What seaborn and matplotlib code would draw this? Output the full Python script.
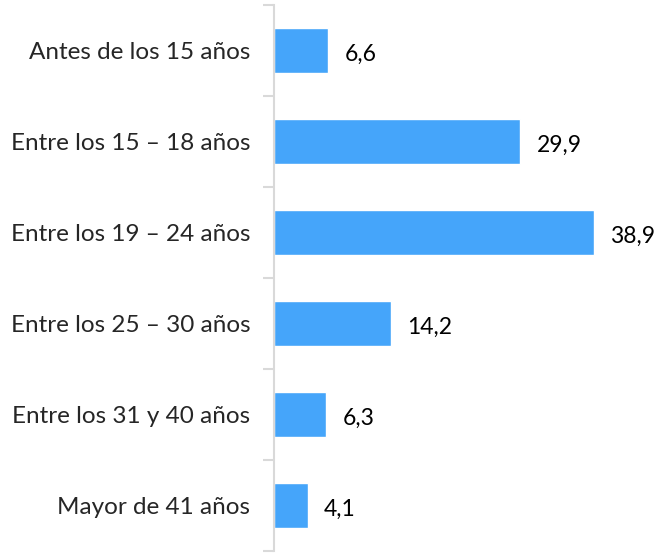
import matplotlib.pyplot as plt
import seaborn as sns
import numpy as np
import pandas as pd

# datos
categorias = ['Antes de los 15 años', 'Entre los 15 – 18 años', 'Entre los 19 – 24 años',
              'Entre los 25 – 30 años', 'Entre los 31 y 40 años', 'Mayor de 41 años']
valores = [6.6, 29.9, 38.9, 14.2, 6.3, 4.1]

df = pd.DataFrame({'Edad': categorias, 'Porcentaje': valores})

sns.set_style('white')
plt.rcParams['font.family'] = ['Lato', 'DejaVu Sans']

fig = plt.figure(figsize=(6.59, 5.56), dpi=100)
ax = fig.add_axes([274 / 659, 5 / 556, 376 / 659, 546 / 556])

sns.barplot(data=df, x='Porcentaje', y='Edad', orient='h', color='#45A5FA',
            width=0.5, saturation=1, ax=ax)

# etiquetas de valor
for i, v in enumerate(valores):
    ax.text(v + 2.0, i + 0.04, f'{v:.1f}'.replace('.', ','), va='center', ha='left',
            fontsize=16.5, color='black')

ax.set_xlim(0, 45.7)
ax.set_ylim(5.5, -0.5)
ax.set_xlabel('')
ax.set_ylabel('')
ax.set_xticks([])

# marcas entre categorías
ax.set_yticks(np.arange(-0.5, 6.0, 1), minor=True)
ax.tick_params(axis='y', which='minor', length=8, width=1.5, color='#D9D9D9', left=True)
ax.tick_params(axis='y', which='major', length=0, pad=17, labelsize=17.5)

for s in ['top', 'right', 'bottom']:
    ax.spines[s].set_visible(False)
ax.spines['left'].set_color('#D9D9D9')
ax.spines['left'].set_linewidth(1.5)

plt.savefig('out.png', dpi=100)
